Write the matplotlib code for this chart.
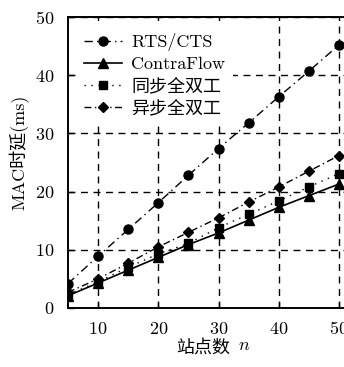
import numpy as np
import matplotlib.pyplot as plt

plt.rcParams['font.family'] = ['cmr10', 'Noto Sans CJK SC']
plt.rcParams['font.weight'] = 'light'
plt.rcParams['mathtext.fontset'] = 'cm'
plt.rcParams['axes.formatter.use_mathtext'] = True

# =============================================================================
# data
# =============================================================================
n = [5, 10, 15, 20, 25, 30, 35, 40, 45, 50]
rts_cts = [4.2, 8.9, 13.5, 18.1, 22.8, 27.4, 31.8, 36.3, 40.7, 45.2]
contraflow = [2.1, 4.3, 6.5, 8.7, 10.9, 12.9, 15.1, 17.3, 19.3, 21.3]
sync_fd = [2.3, 4.5, 7.0, 9.3, 11.1, 13.8, 16.1, 18.4, 20.8, 23.1]
async_fd = [2.7, 5.0, 7.7, 10.5, 13.0, 15.5, 18.2, 20.8, 23.5, 26.2]

labels = ['RTS/CTS', 'ContraFlow', '同步全双工', '异步全双工']
xticks = [10, 20, 30, 40, 50]
yticks = [0, 10, 20, 30, 40, 50]

W, H = 344, 367
fig = plt.figure(figsize=(W/100, H/100), dpi=100)
ax = fig.add_axes([68/W, 59/H, 277/W, 291/H])

ax.plot(n, rts_cts, color='k', lw=1, ls=(0, (6, 3, 1, 3)), marker='o', ms=6.5, label=labels[0])
ax.plot(n, contraflow, color='k', lw=1.2, ls='-', marker='^', ms=6.5, label=labels[1])
ax.plot(n, sync_fd, color='k', lw=1, ls=(0, (1, 4)), marker='s', ms=6, label=labels[2])
ax.plot(n, async_fd, color='k', lw=1, ls=(0, (5, 2.5, 1, 2.5)), marker='D', ms=5.5, label=labels[3])

ax.set_xlim(5, 51)
ax.set_ylim(0, 50)
ax.set_xticks(xticks)
ax.set_yticks(yticks)
ax.tick_params(direction='in', length=4, width=1, labelsize=13)
ax.tick_params(axis='y', pad=10)
ax.tick_params(axis='x', pad=9)
ax.grid(True, color='k', ls=(0, (5, 4)), lw=1)
for s in ax.spines.values():
    s.set_linewidth(1.4)

# axis labels (x label split so the italic n can be math text)
fig.text(230/W, 1 - 347/H, '站点数', fontsize=13, ha='right', va='center')
fig.text(238/W, 1 - 345/H, '$n$', fontsize=13, ha='left', va='center')
fig.text(19/W, 1 - 152/H, 'MAC时延(ms)', fontsize=13, rotation=90,
         ha='center', va='center')

leg = ax.legend(loc='upper left', fontsize=13, frameon=True, framealpha=1,
                edgecolor='none', fancybox=False, handlelength=2.1,
                handletextpad=0.5, labelspacing=0.3, borderpad=0.45,
                borderaxespad=0.45)

fig.savefig('out.png', dpi=100)
